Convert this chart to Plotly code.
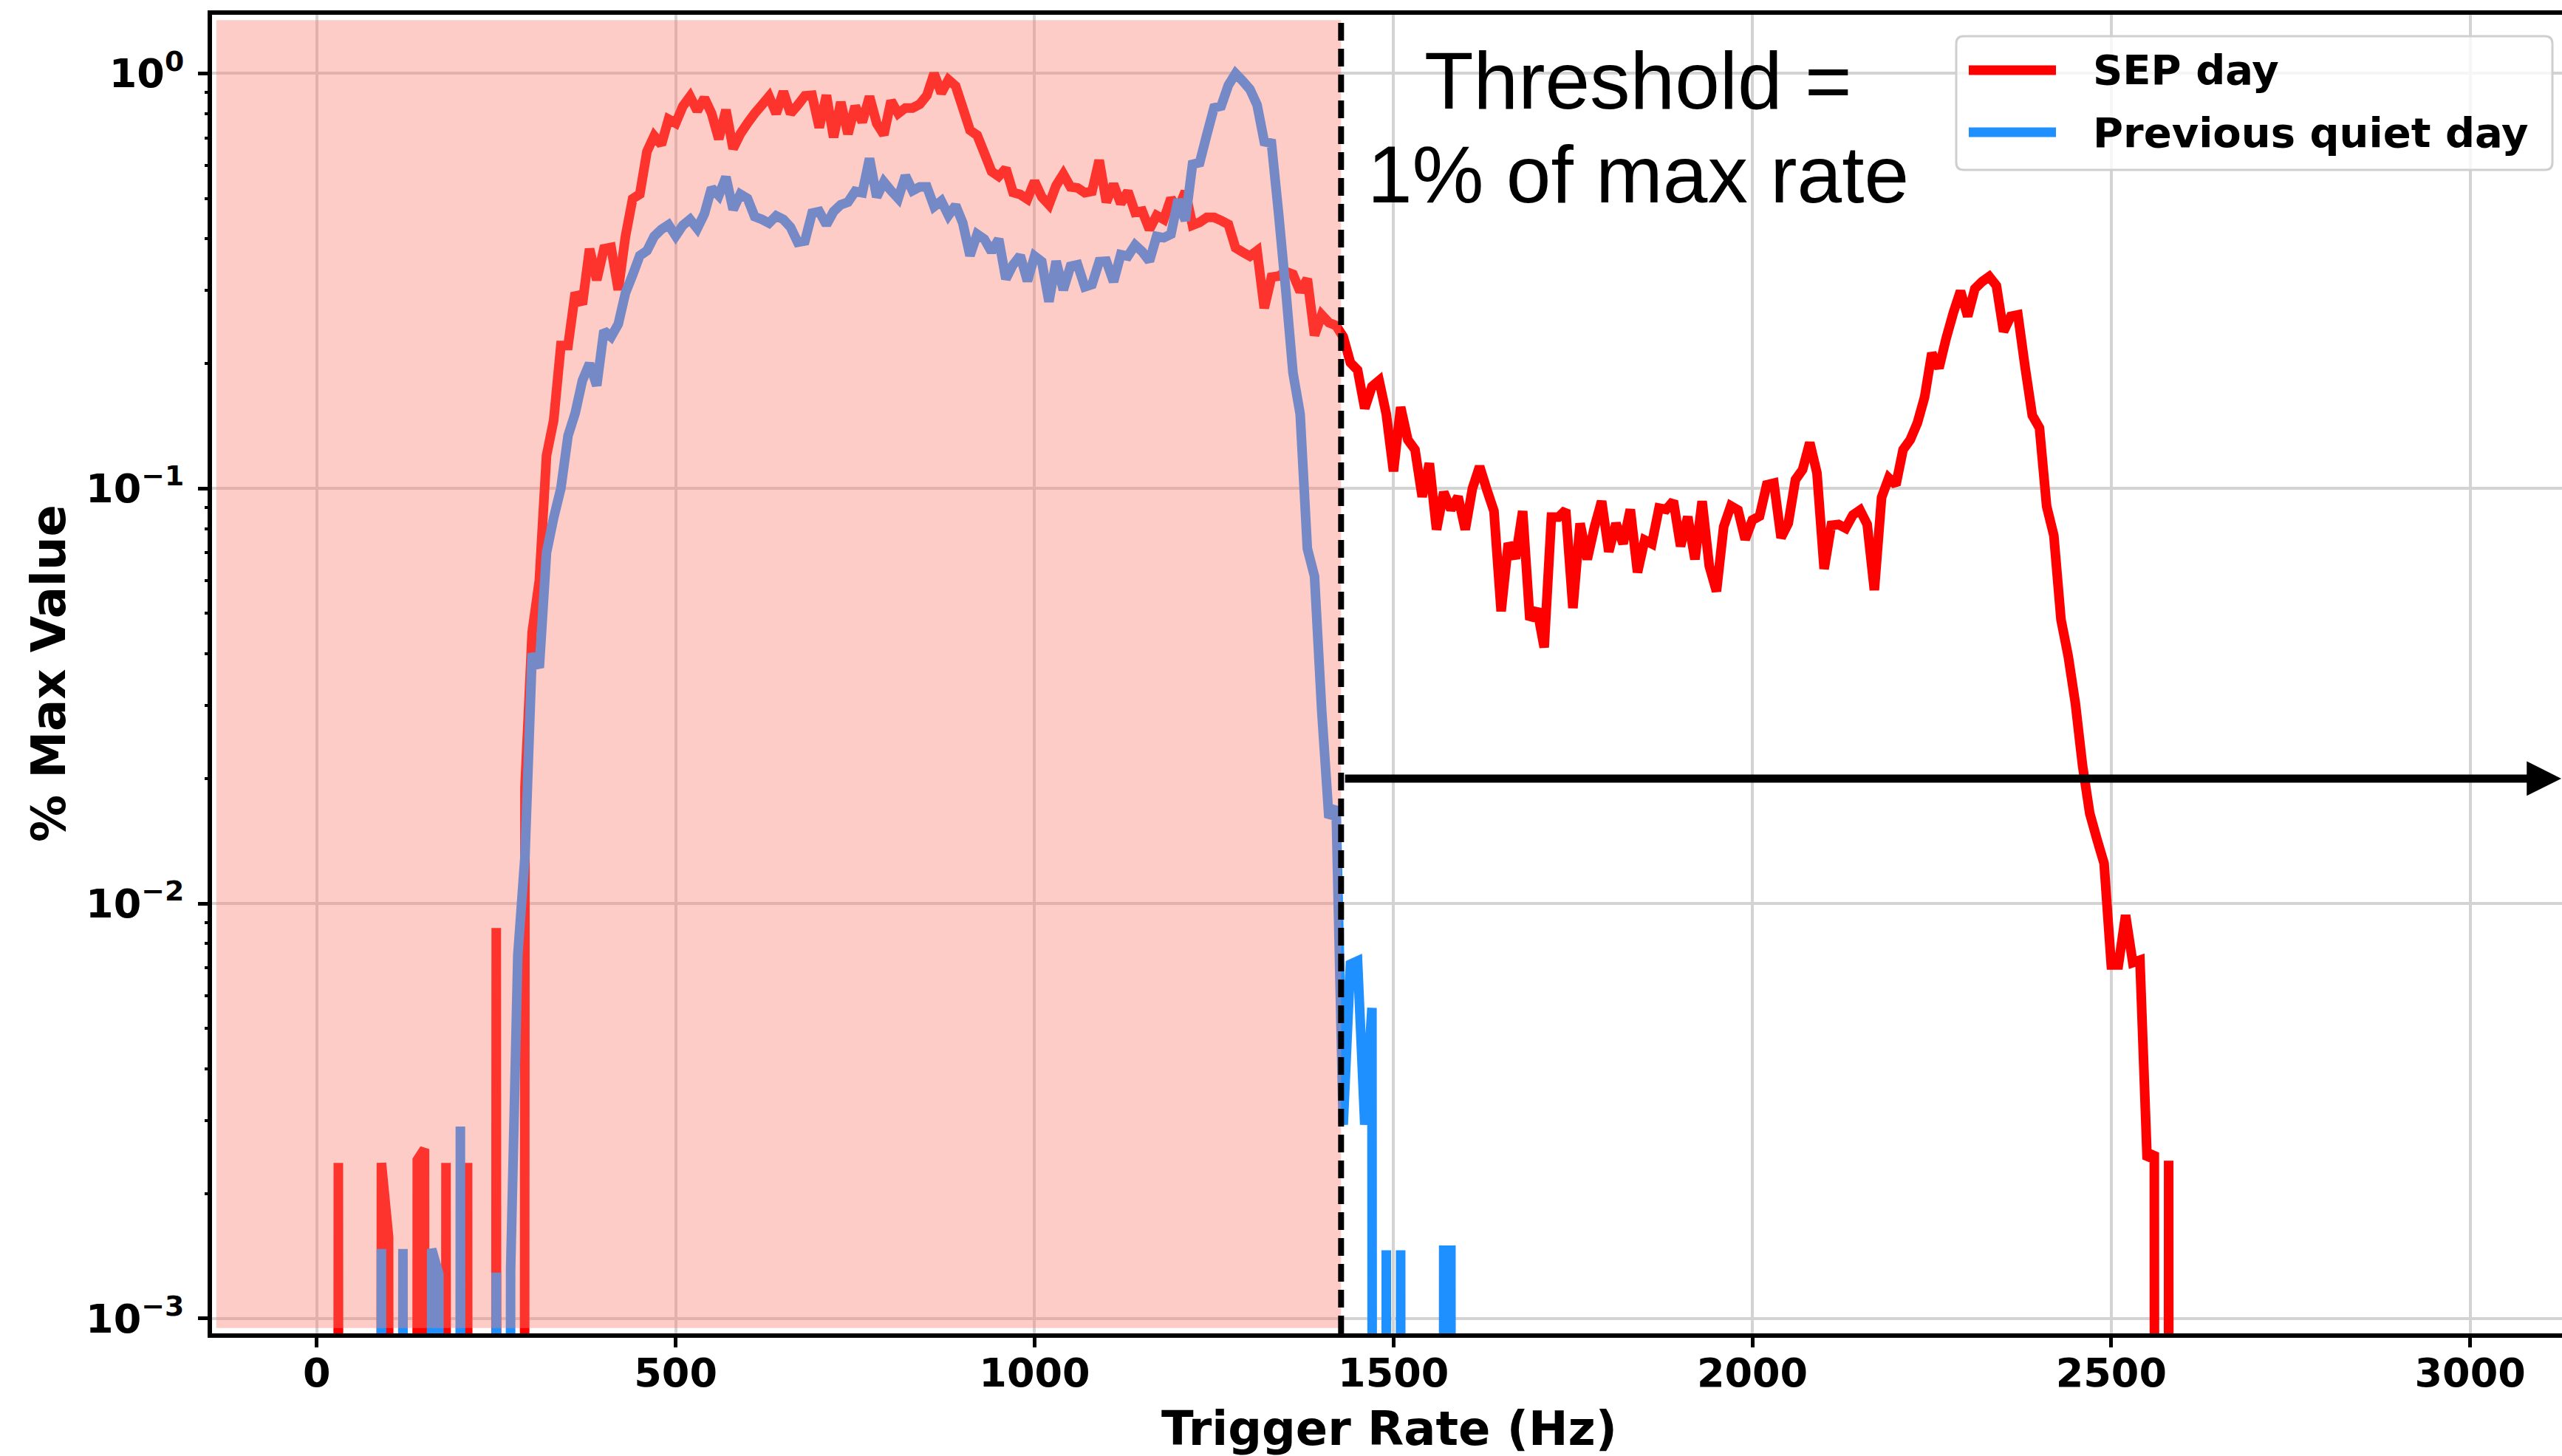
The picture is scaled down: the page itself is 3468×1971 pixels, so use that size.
import numpy as np
import plotly.graph_objects as go

# ---------------- data ----------------
sep_rate_hz = list(range(0, 2610, 10))
sep_frac = [
    0, 0, 0, 0.00237, 0, 0, 0, 0, 0, 0.00237,
    0.00157, 0, 0, 0, 0.00241, 0.00256, 0, 0, 0.00237, 0,
    0, 0.00237, 0, 0, 0, 0.00873, 0, 0, 0, 0.019,
    0.045, 0.060, 0.12, 0.146, 0.221, 0.221, 0.296, 0.278, 0.378, 0.318,
    0.378, 0.381, 0.301, 0.405, 0.499, 0.512, 0.649, 0.707, 0.674, 0.776,
    0.759, 0.834, 0.880, 0.813, 0.873, 0.801, 0.695, 0.817, 0.659, 0.715,
    0.759, 0.801, 0.839, 0.880, 0.801, 0.904, 0.801, 0.839, 0.883, 0.886,
    0.741, 0.886, 0.702, 0.853, 0.715, 0.834, 0.764, 0.880, 0.759, 0.712,
    0.859, 0.801, 0.826, 0.826, 0.843, 0.886, 1.0, 0.897, 0.966, 0.933,
    0.826, 0.730, 0.710, 0.643, 0.581, 0.565, 0.590, 0.517, 0.511, 0.498,
    0.550, 0.504, 0.483, 0.537, 0.572, 0.533, 0.530, 0.516, 0.520, 0.618,
    0.490, 0.541, 0.486, 0.520, 0.463, 0.466, 0.421, 0.455, 0.445, 0.500,
    0.470, 0.520, 0.431, 0.438, 0.450, 0.450, 0.442, 0.433, 0.380, 0.371,
    0.363, 0.374, 0.272, 0.323, 0.325, 0.333, 0.328, 0.298, 0.320, 0.234,
    0.262, 0.251, 0.247, 0.232, 0.201, 0.193, 0.156, 0.176, 0.182, 0.151,
    0.110, 0.157, 0.131, 0.124, 0.0955, 0.115, 0.0796, 0.098, 0.089, 0.0955,
    0.0796, 0.100, 0.113, 0.0994, 0.0882, 0.0506, 0.0738, 0.0678, 0.0882, 0.0483,
    0.0513, 0.0414, 0.0853, 0.0853, 0.0887, 0.0515, 0.0824, 0.0675, 0.0807, 0.0932,
    0.0704, 0.0824, 0.0736, 0.0890, 0.0628, 0.0751, 0.0736, 0.0897, 0.0890, 0.0933,
    0.0726, 0.0855, 0.0675, 0.0932, 0.0650, 0.0565, 0.0808, 0.0908, 0.0887, 0.0754,
    0.0839, 0.0858, 0.102, 0.103, 0.0761, 0.0824, 0.105, 0.111, 0.129, 0.109,
    0.0640, 0.0815, 0.0819, 0.0802, 0.0863, 0.0887, 0.0819, 0.0569, 0.0951, 0.106,
    0.102, 0.124, 0.131, 0.144, 0.166, 0.212, 0.195, 0.230, 0.265, 0.299,
    0.260, 0.303, 0.315, 0.324, 0.308, 0.239, 0.260, 0.262, 0.196, 0.150,
    0.140, 0.0906, 0.0771, 0.0483, 0.0395, 0.0304, 0.0215, 0.0165, 0.0143, 0.0125,
    0.00711, 0.00711, 0.00937, 0.00720, 0.00730, 0.00242, 0.00251, 0, 0.0024, 0,
    0,
]

quiet_rate_hz = list(range(0, 1610, 10))
quiet_frac = [
    0, 0, 0, 0, 0, 0, 0, 0, 0, 0.00147,
    0, 0, 0.00147, 0, 0, 0, 0.00147, 0.00128, 0, 0,
    0.0029, 0, 0, 0, 0, 0.00129, 0, 0.0013, 0.0075, 0.013,
    0.040, 0.037, 0.070, 0.085, 0.100, 0.134, 0.152, 0.182, 0.200, 0.177,
    0.240, 0.232, 0.249, 0.296, 0.327, 0.364, 0.374, 0.405, 0.421, 0.432,
    0.406, 0.431, 0.445, 0.423, 0.459, 0.530, 0.508, 0.563, 0.470, 0.512,
    0.500, 0.452, 0.445, 0.436, 0.454, 0.445, 0.426, 0.392, 0.395, 0.461,
    0.465, 0.432, 0.465, 0.483, 0.490, 0.520, 0.516, 0.624, 0.504, 0.548,
    0.522, 0.500, 0.567, 0.522, 0.533, 0.533, 0.478, 0.493, 0.455, 0.481,
    0.436, 0.364, 0.410, 0.399, 0.372, 0.399, 0.320, 0.346, 0.364, 0.316,
    0.363, 0.352, 0.282, 0.353, 0.301, 0.343, 0.346, 0.306, 0.310, 0.352,
    0.353, 0.315, 0.366, 0.363, 0.386, 0.372, 0.353, 0.405, 0.402, 0.410,
    0.497, 0.442, 0.604, 0.610, 0.713, 0.827, 0.835, 0.937, 1.0, 0.959,
    0.916, 0.840, 0.685, 0.679, 0.459, 0.300, 0.190, 0.151, 0.0717, 0.0614,
    0.0292, 0.0161, 0.0171, 0.00293, 0.00714, 0.00727, 0.00293, 0.00560, 0, 0.00146,
    0, 0.00146, 0, 0, 0, 0, 0, 0.00146, 0.00146, 0,
    0,
]

series_names = ["SEP day", "Previous quiet day"]
series_colors = ["#ff0000", "#1e90ff"]
threshold_hz = 1427
arrow_level = 0.02
x_tick_vals = [0, 500, 1000, 1500, 2000, 2500, 3000]
y_tick_vals = [1e-3, 1e-2, 1e-1, 1]
y_tick_text = ["10<sup>−3</sup>", "10<sup>−2</sup>", "10<sup>−1</sup>", "10<sup>0</sup>"]
y_minor_vals = [m * 10.0 ** e for e in (-3, -2, -1) for m in range(2, 10)]
threshold_lines = ["Threshold =", "1% of max rate"]

# ---------------- layout geometry ----------------
W, H = 3468, 1971
L, R, T, B = 287, 0, 20, 166
PW, PH = W - L - R, H - T - B
X_RANGE = [-146, 3128]
Y_RANGE = [-3.036, 0.1415]


def px_x(px):
    return (px - L) / PW


def px_y(py):
    return (H - B - py) / PH


def log_floor(vals):
    # zero bins are sent far below the axis, like matplotlib's log clipping
    return [v if v > 0 else 1e-30 for v in vals]


BOLD = dict(family="DejaVu Sans", color="black", weight="bold")
LINE_W = 13

fig = go.Figure()
fig.add_trace(go.Scatter(
    x=sep_rate_hz, y=log_floor(sep_frac), mode="lines", name=series_names[0],
    line=dict(color=series_colors[0], width=LINE_W, simplify=False), showlegend=False,
))
fig.add_trace(go.Scatter(
    x=quiet_rate_hz, y=log_floor(quiet_frac), mode="lines", name=series_names[1],
    line=dict(color=series_colors[1], width=LINE_W, simplify=False), showlegend=False,
))
# anchor trace for the minor-tick overlay axis
fig.add_trace(go.Scatter(x=[0], y=[1], yaxis="y2", mode="markers",
                         marker=dict(opacity=0), showlegend=False, hoverinfo="skip"))

axis_common = dict(
    ticks="outside", ticklen=13, tickwidth=5, tickcolor="black",
    showline=True, linewidth=6, linecolor="black",
    showgrid=True, gridcolor="#d3d3d3", gridwidth=4, zeroline=False,
    tickfont=dict(size=54, **BOLD),
)

fig.update_layout(
    width=W, height=H,
    margin=dict(l=L, r=R, t=T, b=B, pad=0),
    paper_bgcolor="white", plot_bgcolor="white",
    hovermode=False, showlegend=False,
    xaxis=dict(range=X_RANGE, tickvals=x_tick_vals, mirror=True,
               ticklabelstandoff=-12, **axis_common),
    yaxis=dict(type="log", range=Y_RANGE, tickvals=y_tick_vals, ticktext=y_tick_text,
               mirror=False, ticklabelstandoff=8, **axis_common),
    yaxis2=dict(type="log", range=Y_RANGE, overlaying="y", side="left", anchor="x",
                tickvals=y_minor_vals, ticks="outside", ticklen=9, tickwidth=4,
                tickcolor="black", showticklabels=False, showgrid=False,
                showline=False, zeroline=False),
)

shapes = []
# shaded region below threshold (drawn over the curves, as in the reference)
shapes.append(dict(type="rect", xref="x", yref="paper", x0=-140, x1=threshold_hz,
                   y0=0.004, y1=0.996, fillcolor="rgba(250,128,114,0.4)",
                   line=dict(width=0), layer="above"))
# threshold dashed line
shapes.append(dict(type="line", xref="x", yref="paper", x0=threshold_hz, x1=threshold_hz,
                   y0=0, y1=1, line=dict(color="black", width=8, dash="24px,11px"),
                   layer="above"))

# manual legend (rounded box, long line handles)
bx0, bx1, by0, by1, rr = 2648, 3455, 49, 230, 10
x0, x1 = px_x(bx0), px_x(bx1)
y0, y1 = px_y(by1), px_y(by0)
rx, ry = rr / PW, rr / PH
path = (f"M{x0+rx},{y1} L{x1-rx},{y1} Q{x1},{y1} {x1},{y1-ry} L{x1},{y0+ry} "
        f"Q{x1},{y0} {x1-rx},{y0} L{x0+rx},{y0} Q{x0},{y0} {x0},{y0+ry} "
        f"L{x0},{y1-ry} Q{x0},{y1} {x0+rx},{y1} Z")
shapes.append(dict(type="path", xref="paper", yref="paper", path=path,
                   fillcolor="rgba(255,255,255,0.8)",
                   line=dict(color="#cfcfcf", width=3), layer="above"))
legend_rows = [95, 179]
for row_y, color in zip(legend_rows, series_colors):
    shapes.append(dict(type="line", xref="paper", yref="paper",
                       x0=px_x(2665), x1=px_x(2783), y0=px_y(row_y), y1=px_y(row_y),
                       line=dict(color=color, width=LINE_W), layer="above"))
fig.update_layout(shapes=shapes)

annotations = []
# arrow at 2% level from threshold to the right
annotations.append(dict(
    x=3127, y=np.log10(arrow_level), ax=1431, ay=np.log10(arrow_level),
    xref="x", yref="y", axref="x", ayref="y", text="", showarrow=True,
    arrowhead=2, arrowsize=0.85, arrowwidth=11, arrowcolor="black",
))
# threshold annotation text (two lines, centred)
for line_text, cy in zip(threshold_lines, [108.6, 235.6]):
    annotations.append(dict(
        x=1841, y=px_y(cy), xref="x", yref="paper", text=line_text, showarrow=False,
        xanchor="center", yanchor="middle",
        font=dict(family="Liberation Sans", size=109, color="black"),
    ))
# legend labels
for row_y, name in zip(legend_rows, series_names):
    annotations.append(dict(
        x=px_x(2831), y=px_y(row_y), xref="paper", yref="paper", text=name,
        showarrow=False, xanchor="left", yanchor="middle",
        font=dict(size=56, **BOLD),
    ))
# axis titles
annotations.append(dict(
    x=px_x(1880), y=px_y(1934), xref="paper", yref="paper", text="Trigger Rate (Hz)",
    showarrow=False, xanchor="center", yanchor="middle", font=dict(size=64, **BOLD),
))
annotations.append(dict(
    x=px_x(66), y=px_y(912), xref="paper", yref="paper", text="% Max Value",
    showarrow=False, xanchor="center", yanchor="middle", textangle=-90,
    font=dict(size=64, **BOLD),
))
fig.update_layout(annotations=annotations)

fig.write_html("out.html")
